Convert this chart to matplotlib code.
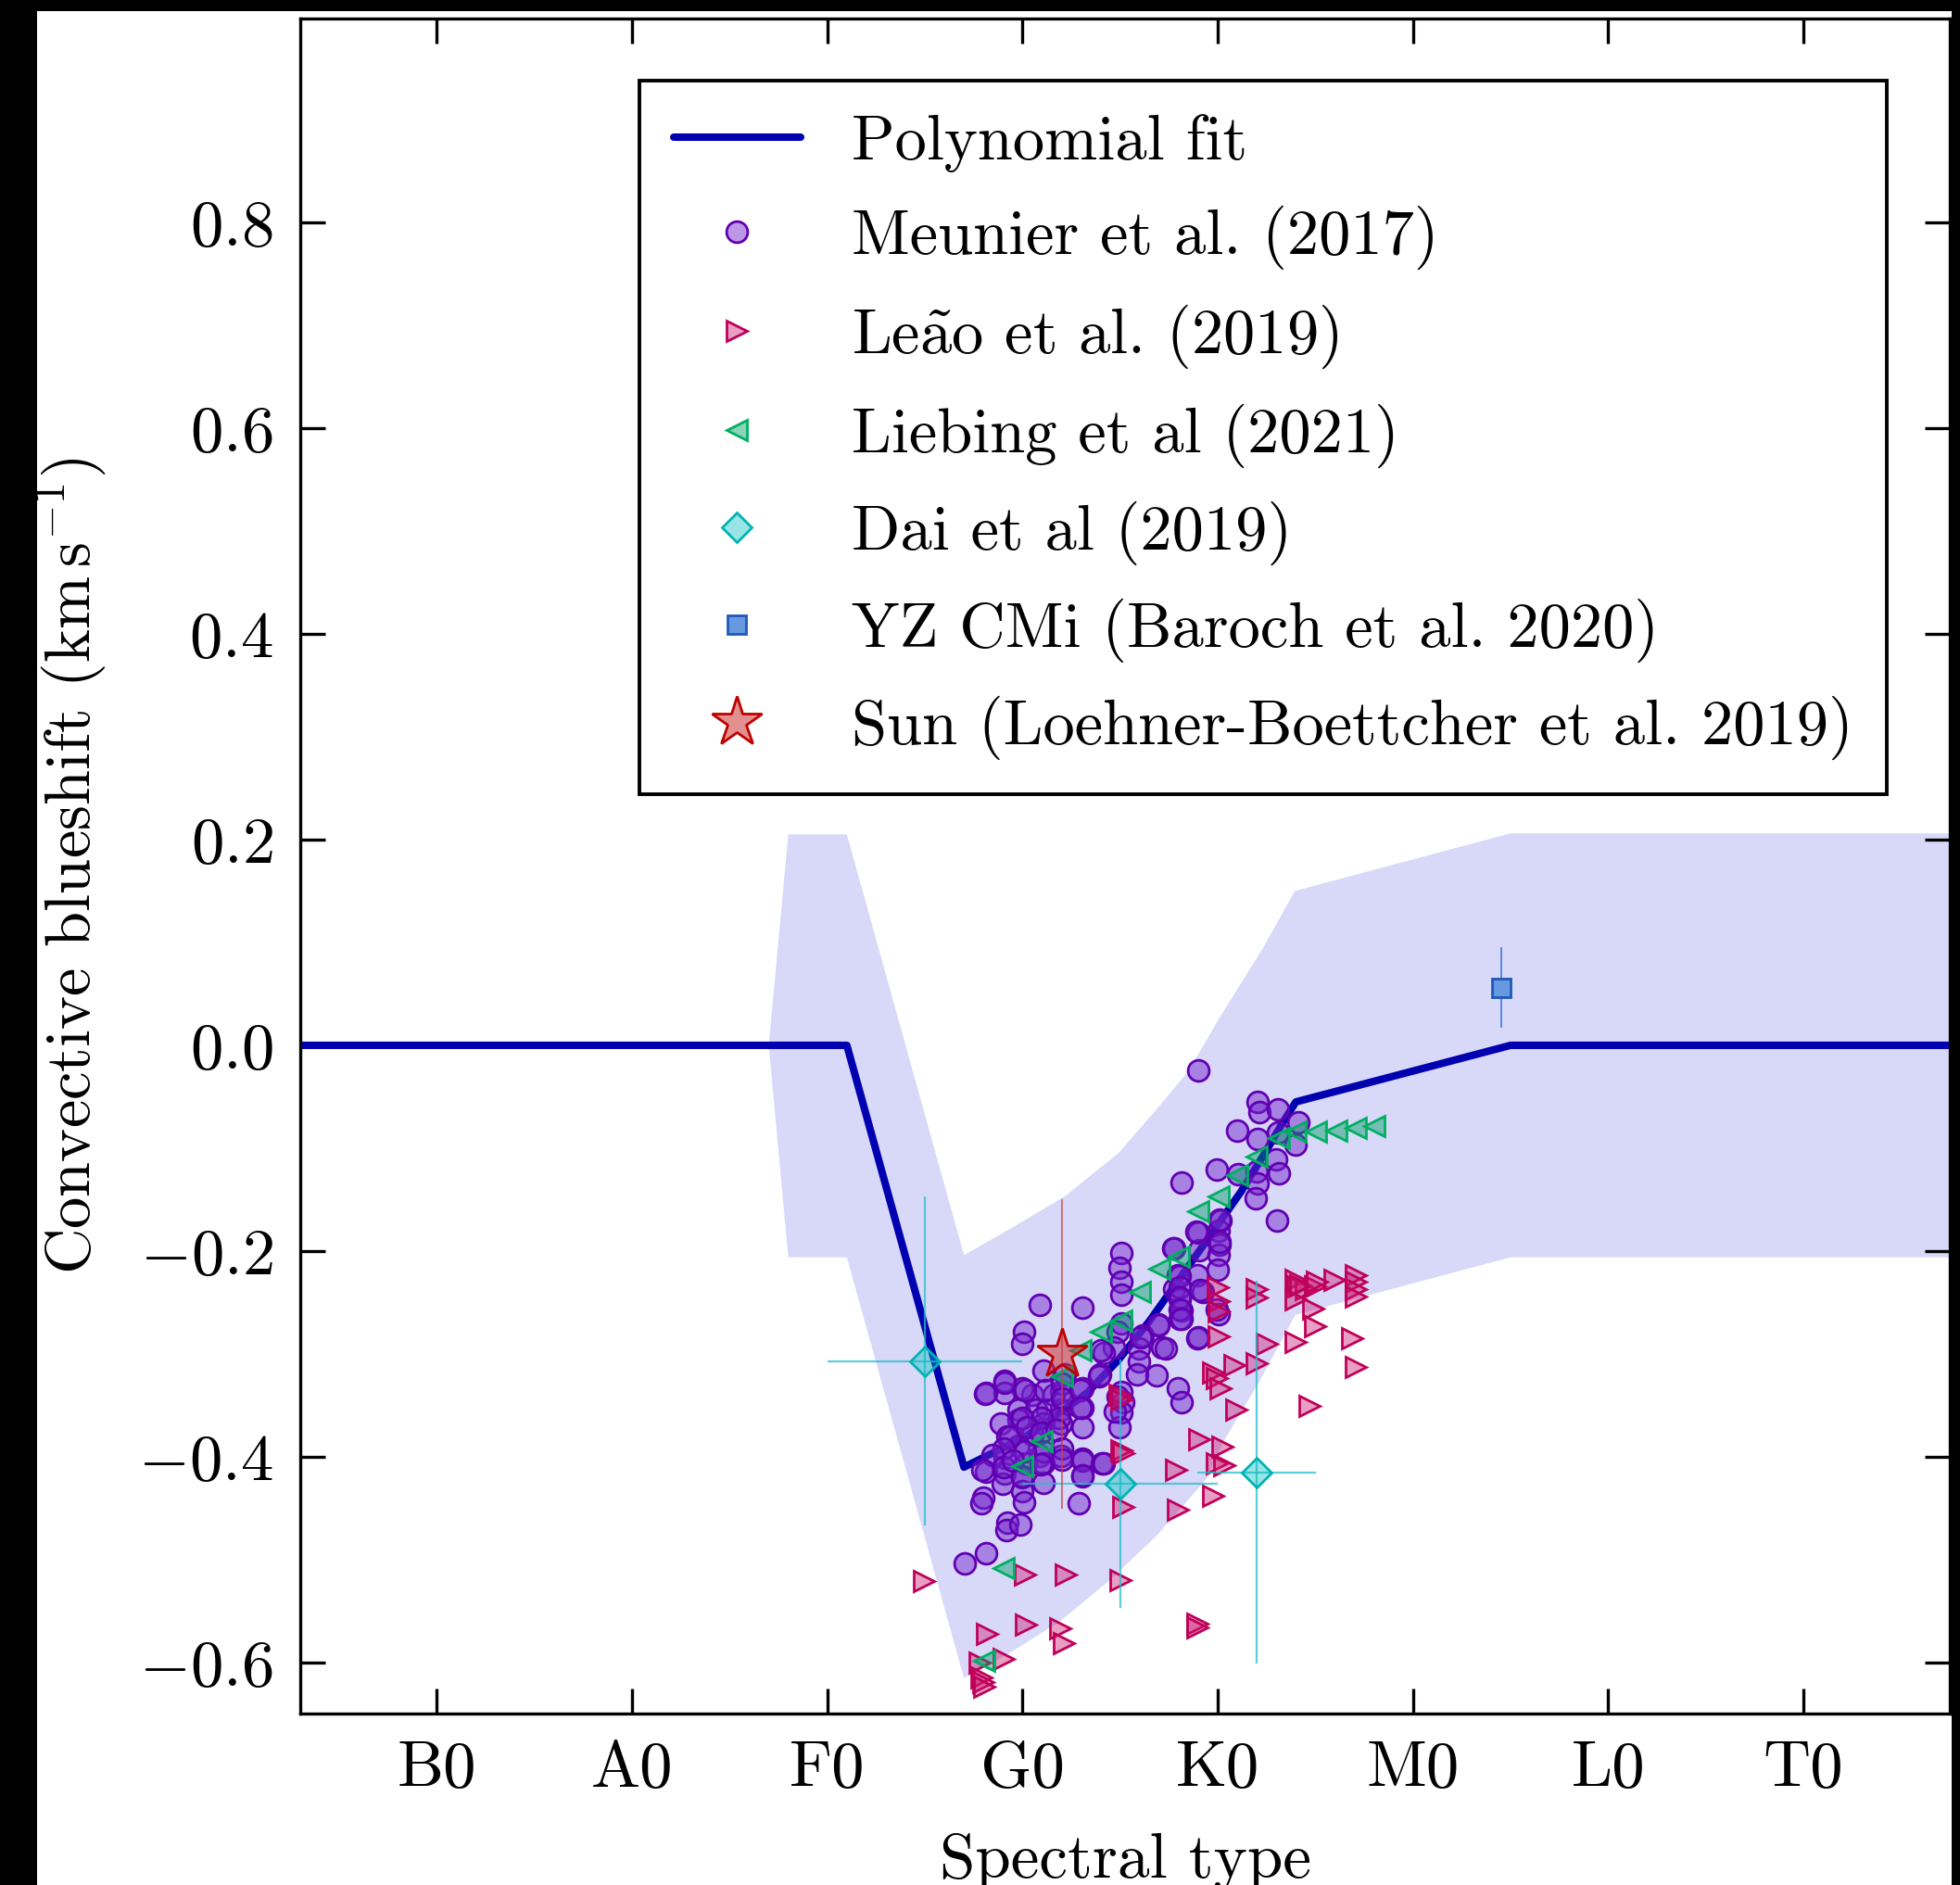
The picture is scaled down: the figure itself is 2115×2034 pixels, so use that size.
import matplotlib
matplotlib.use("Agg")
import matplotlib.pyplot as plt
from matplotlib.patches import Rectangle
import numpy as np

plt.rcParams.update({
    "font.family": "serif",
    "font.serif": ["cmr10"],
    "mathtext.fontset": "cm",
    "axes.formatter.use_mathtext": True,
    "axes.unicode_minus": False,
    "font.size": 25.5,
})

# ---------------- data ----------------
spec_ticks = [10, 20, 30, 40, 50, 60, 70, 80]
spec_labels = ["B0", "A0", "F0", "G0", "K0", "M0", "L0", "T0"]
y_ticks = [-0.6, -0.4, -0.2, 0.0, 0.2, 0.4, 0.6, 0.8]
y_labels = ["$-0.6$", "$-0.4$", "$-0.2$", "$0.0$", "$0.2$", "$0.4$", "$0.6$", "$0.8$"]

fit_x = [0, 31.0, 37.0, 38.5, 40.2, 41.7, 43.3, 44.9, 46.5, 48.0, 49.65, 51.2, 52.5, 53.3, 54.0, 65.0, 90.0]
fit_y = [0, 0.0, -0.410, -0.396, -0.380, -0.360, -0.338, -0.306, -0.268, -0.228, -0.184, -0.142, -0.102, -0.076, -0.055, 0.0, 0.0]

band_up_x = [27.0, 28.0, 31.0, 37.0, 39.4, 42.15, 44.9, 46.7, 48.5, 50.1, 52.3, 53.95, 65.0, 90.0]
band_up_y = [0.0, 0.205, 0.205, -0.204, -0.178, -0.147, -0.105, -0.066, -0.025, 0.027, 0.094, 0.150, 0.206, 0.206]
band_lo_x = [27.0, 28.0, 31.0, 37.0, 39.4, 41.9, 44.4, 46.9, 49.4, 50.3, 52.15, 53.97, 65.0, 90.0]
band_lo_y = [0.0, -0.206, -0.206, -0.615, -0.590, -0.560, -0.521, -0.476, -0.422, -0.385, -0.326, -0.262, -0.206, -0.206]

meunier_x = [49.00, 52.06, 52.15, 53.09, 54.15, 51.00, 52.02, 53.06, 53.97, 52.97,
             53.15, 49.93, 51.06, 51.97, 52.06, 51.93, 53.02, 48.15, 50.15, 50.06,
             49.00, 49.06, 50.11, 50.06, 50.02, 47.75, 48.97, 47.97, 47.78, 48.06,
             48.15, 48.06, 49.24, 50.06, 48.97, 46.97, 47.15, 46.15, 45.96, 45.96,
             45.87, 46.87, 47.97, 48.15, 45.06, 44.97, 45.06, 45.06, 45.06, 44.88,
             44.69, 44.15, 43.97, 43.06, 43.06, 43.06, 42.15, 41.97, 41.97, 41.97,
             43.06, 43.06, 44.06, 45.06, 45.15, 45.06, 44.97, 40.87, 43.06, 40.06,
             39.97, 41.06, 41.60, 40.51, 39.97, 39.06, 39.06, 38.15, 39.78, 39.78,
             38.88, 40.69, 41.24, 41.06, 40.51, 39.24, 39.78, 40.87, 41.97, 39.06,
             40.15, 41.06, 38.15, 39.06, 39.97, 41.06, 38.97, 39.97, 40.06, 37.97,
             37.88, 39.24, 39.15, 39.87, 38.15, 37.06, 42.87,
             38.08, 39.10, 40.10, 41.16, 42.04, 42.04, 42.98, 42.98, 41.88, 41.00,
             39.98, 39.34, 40.20, 40.93, 41.72, 42.04, 41.09, 40.14, 39.03, 38.47,
             37.92, 39.03, 39.98, 40.93, 42.04, 43.06, 44.17, 43.06, 39.50, 44.02,
             46.07, 46.94, 47.34, 43.94, 44.88, 44.73, 47.73, 48.92, 50.11, 50.11,
             49.08, 49.00, 49.95, 48.05, 48.05, 48.05, 48.05, 48.13]
meunier_y = [-0.024, -0.055, -0.065, -0.062, -0.075, -0.083, -0.091, -0.085, -0.096, -0.111,
             -0.124, -0.121, -0.125, -0.123, -0.134, -0.149, -0.170, -0.133, -0.170, -0.180,
             -0.182, -0.199, -0.194, -0.204, -0.218, -0.197, -0.223, -0.223, -0.237, -0.247,
             -0.258, -0.266, -0.240, -0.261, -0.285, -0.271, -0.294, -0.282, -0.295, -0.307,
             -0.320, -0.321, -0.333, -0.347, -0.202, -0.216, -0.230, -0.242, -0.270, -0.278,
             -0.294, -0.299, -0.320, -0.333, -0.352, -0.371, -0.320, -0.337, -0.354, -0.368,
             -0.402, -0.419, -0.406, -0.337, -0.347, -0.357, -0.371, -0.252, -0.255, -0.278,
             -0.290, -0.316, -0.340, -0.340, -0.333, -0.326, -0.338, -0.338, -0.354, -0.364,
             -0.368, -0.354, -0.354, -0.368, -0.378, -0.380, -0.389, -0.399, -0.399, -0.401,
             -0.406, -0.406, -0.414, -0.416, -0.420, -0.425, -0.426, -0.433, -0.444, -0.440,
             -0.445, -0.464, -0.471, -0.466, -0.494, -0.504, -0.445,
             -0.339, -0.328, -0.335, -0.335, -0.329, -0.343, -0.335, -0.352, -0.362, -0.362,
             -0.362, -0.380, -0.371, -0.377, -0.374, -0.392, -0.395, -0.395, -0.392, -0.398,
             -0.413, -0.410, -0.419, -0.407, -0.403, -0.404, -0.406, -0.418, -0.404, -0.296,
             -0.284, -0.272, -0.295, -0.322, -0.341, -0.356, -0.197, -0.181, -0.169, -0.191,
             -0.238, -0.284, -0.257, -0.224, -0.235, -0.245, -0.257, -0.266]

leao_x = [44.97, 45.06, 45.06, 45.15, 45.15, 50.02, 50.06, 50.06, 51.97, 51.97,
          53.97, 54.06, 54.51, 54.97, 53.97, 54.88, 54.97, 55.97, 57.06, 57.06,
          57.06, 57.06, 56.88, 57.06, 54.69, 50.06, 52.51, 53.97, 51.97, 49.78,
          49.97, 50.15, 50.87, 50.96, 49.06, 50.24, 49.97, 50.33, 47.87, 49.78,
          47.97, 34.95, 40.11, 42.20, 45.03, 38.20, 40.15, 41.95, 42.11, 48.94,
          48.94, 39.03, 37.80, 37.90, 38.00, 38.03, 54.23, 55.10]
leao_y = [-0.340, -0.344, -0.394, -0.396, -0.449, -0.235, -0.249, -0.259, -0.237, -0.245,
          -0.228, -0.234, -0.237, -0.234, -0.247, -0.256, -0.273, -0.228, -0.223, -0.230,
          -0.237, -0.244, -0.285, -0.313, -0.350, -0.283, -0.290, -0.288, -0.309, -0.318,
          -0.323, -0.333, -0.311, -0.354, -0.383, -0.390, -0.406, -0.408, -0.413, -0.438,
          -0.451, -0.521, -0.514, -0.514, -0.520, -0.572, -0.563, -0.567, -0.581, -0.562,
          -0.566, -0.596, -0.600, -0.614, -0.619, -0.623, -0.233, -0.230]

liebing_x = [58.03, 57.08, 56.05, 55.02, 53.99, 53.12, 52.01, 50.99, 50.04, 49.01,
             47.98, 47.03, 46.00, 45.05, 44.02, 42.99, 42.04, 41.00, 39.98, 39.03, 38.03]
liebing_y = [-0.078, -0.080, -0.083, -0.084, -0.084, -0.090, -0.108, -0.126, -0.147, -0.161,
             -0.205, -0.217, -0.240, -0.268, -0.278, -0.296, -0.322, -0.385, -0.409, -0.508, -0.598]

dai_x = [35.0, 45.0, 52.0]
dai_y = [-0.307, -0.426, -0.415]
dai_xerr = [5.0, 5.0, 3.05]
dai_yerr = [0.160, 0.121, 0.186]

yz_x = [64.5]
yz_y = [0.056]
yz_yerr = [0.039]

sun_x = [42.0]
sun_y = [-0.300]
sun_yerr = [0.150]

# ---------------- figure ----------------
W, H = 2115, 2034
fig = plt.figure(figsize=(W / 200, H / 200), dpi=200, facecolor="black")
bg = Rectangle((40 / W, 0), (2106 - 40) / W, 1 - 12 / H,
               transform=fig.transFigure, facecolor="white",
               edgecolor="none", zorder=-10)
fig.add_artist(bg)
ax = fig.add_axes([324 / W, 1 - 1849 / H, (2104 - 324) / W, (1849 - 20) / H])
ax.set_zorder(1)

# band
poly_x = np.concatenate([band_up_x, band_lo_x[::-1]])
poly_y = np.concatenate([band_up_y, band_lo_y[::-1]])
ax.fill(poly_x, poly_y, color="#d8d8f8", lw=0, zorder=1)

fit_line, = ax.plot(fit_x, fit_y, color="#0000b0", lw=2.9, zorder=2,
                    solid_capstyle="round", label="Polynomial fit")

mew = 1.0
h_meu, = ax.plot(meunier_x, meunier_y, ls="none", marker="o", ms=8.2,
                 mfc=(0.45, 0.15, 0.80, 0.48), mec=(0.38, 0.0, 0.70, 1.0), mew=mew,
                 zorder=3, label="Meunier et al. (2017)")
h_leao, = ax.plot(leao_x, leao_y, ls="none", marker=">", ms=8.2,
                  mfc=(0.80, 0.10, 0.45, 0.42), mec=(0.75, 0.0, 0.35, 1.0), mew=mew,
                  zorder=4, label="Le$\\tilde{\\mathrm{a}}$o et al. (2019)")
h_lieb, = ax.plot(liebing_x, liebing_y, ls="none", marker="<", ms=8.2,
                  mfc=(0.0, 0.62, 0.42, 0.45), mec=(0.0, 0.69, 0.38, 1.0), mew=mew,
                  zorder=5, label="Liebing et al (2021)")

ax.errorbar(dai_x, dai_y, xerr=dai_xerr, yerr=dai_yerr, fmt="none",
            ecolor=(0.15, 0.75, 0.80, 0.75), elinewidth=0.8, capsize=0, zorder=5)
h_dai, = ax.plot(dai_x, dai_y, ls="none", marker="D", ms=8.4,
                 mfc=(0.0, 0.75, 0.75, 0.40), mec=(0.0, 0.70, 0.70, 1.0), mew=mew,
                 zorder=6, label="Dai et al (2019)")

ax.errorbar(yz_x, yz_y, yerr=yz_yerr, fmt="none",
            ecolor=(0.2, 0.45, 0.85, 0.8), elinewidth=0.7, capsize=0, zorder=5)
h_yz, = ax.plot(yz_x, yz_y, ls="none", marker="s", ms=7.4,
                mfc=(0.40, 0.60, 0.88, 1.0), mec=(0.12, 0.35, 0.72, 1.0), mew=mew,
                zorder=6, label="YZ CMi (Baroch et al. 2020)")

ax.errorbar(sun_x, sun_y, yerr=sun_yerr, fmt="none",
            ecolor=(0.80, 0.25, 0.25, 0.7), elinewidth=0.7, capsize=0, zorder=6)
h_sun, = ax.plot(sun_x, sun_y, ls="none", marker="*", ms=20.5,
                 mfc=(0.80, 0.20, 0.20, 0.55), mec=(0.75, 0.0, 0.0, 1.0), mew=mew,
                 zorder=7, label="Sun (Loehner-Boettcher et al. 2019)")

ax.set_xlim(3.0, 87.5)
ax.set_ylim(-0.6495, 0.998)
ax.set_xticks(spec_ticks)
ax.set_xticklabels(spec_labels)
ax.set_yticks(y_ticks)
ax.set_yticklabels(y_labels)
ax.tick_params(direction="in", length=9.7, width=1.2, top=True, right=True,
               labelsize=25.5, pad=10.5)
for sp in ax.spines.values():
    sp.set_linewidth(1.2)

ax.set_xlabel("Spectral type", fontsize=24.9)
ax.xaxis.set_label_coords(0.5, -0.0705)
ax.set_ylabel("Convective blueshift ($\\mathrm{km\\,s^{-1}}$)", fontsize=24.7)
ax.yaxis.set_label_coords(-0.1165, 0.5)

handles = [fit_line, h_meu, h_leao, h_lieb, h_dai, h_yz, h_sun]
leg = ax.legend(handles=handles, loc="upper right",
                bbox_to_anchor=(2036 / W, 1 - 87 / H), bbox_transform=fig.transFigure,
                borderaxespad=0, frameon=True, fancybox=False, edgecolor="black",
                framealpha=1, labelspacing=0.52, handlelength=2.0, handletextpad=0.8,
                borderpad=0.53, fontsize=24.7)
leg.get_frame().set_linewidth(1.4)
leg.set_zorder(10)

fig.savefig("out.png", dpi=200, facecolor=fig.get_facecolor())
